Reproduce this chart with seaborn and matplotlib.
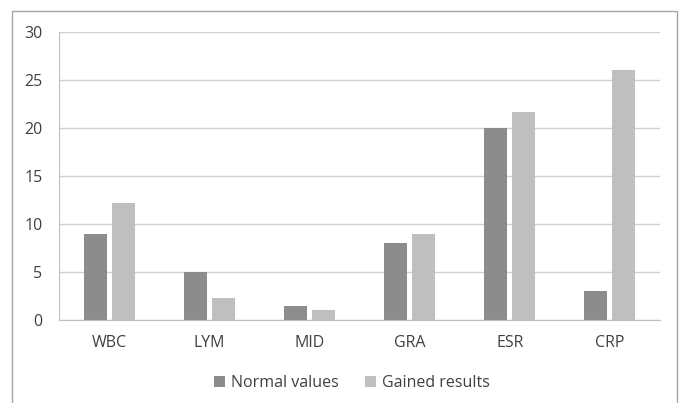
import matplotlib
matplotlib.use("Agg")
import matplotlib.pyplot as plt
import seaborn as sns
import pandas as pd
from matplotlib.patches import Rectangle

categories = ["WBC", "LYM", "MID", "GRA", "ESR", "CRP"]
normal_values = [9, 5, 1.5, 8, 20, 3]
gained_results = [12.2, 2.3, 1.0, 9.0, 21.7, 26.0]
series_names = ["Normal values", "Gained results"]
y_ticks = [0, 5, 10, 15, 20, 25, 30]

df = pd.DataFrame({
    "cat": categories * 2,
    "val": normal_values + gained_results,
    "series": [series_names[0]] * len(categories) + [series_names[1]] * len(categories),
})

sns.set_style("white")
plt.rcParams["font.family"] = ["Open Sans", "DejaVu Sans"]

fig = plt.figure(figsize=(6.8, 4.03), dpi=100)
ax = fig.add_axes([59/680, 1-320/403, (660-59)/680, (320-32)/403])

palette = {series_names[0]: "#8c8c8c", series_names[1]: "#bfbfbf"}
sns.barplot(data=df, x="cat", y="val", hue="series", palette=palette,
            width=0.56, gap=0.18, ax=ax, saturation=1, legend=True,
            linewidth=0)

ax.set_ylim(0, 30)
ax.set_xlim(-0.5, 5.5)
ax.set_yticks(y_ticks)
ax.set_xlabel("")
ax.set_ylabel("")
ax.yaxis.grid(True, color="#d0d0d0", linewidth=1)
ax.set_axisbelow(True)
for s in ["top", "right"]:
    ax.spines[s].set_visible(False)
ax.spines["left"].set_color("#c0c0c0")
ax.spines["bottom"].set_color("#c0c0c0")
ax.tick_params(axis="both", length=0, labelsize=11.5, colors="#404040")
ax.tick_params(axis="y", pad=12)
ax.tick_params(axis="x", pad=11)

leg = ax.legend(loc="center", bbox_to_anchor=(352/680, 1-383/403),
                bbox_transform=fig.transFigure, ncol=2, frameon=False,
                fontsize=11.5, handlelength=0.7, handleheight=0.7,
                columnspacing=1.6, handletextpad=0.4)
for t in leg.get_texts():
    t.set_color("#404040")

fig.patches.append(Rectangle((12/680, -0.05), (677-12)/680, 1.05 - 11/403,
                             transform=fig.transFigure, fill=False,
                             edgecolor="#a6a6a6", linewidth=1, clip_on=False))

fig.savefig("out.png", dpi=100)
